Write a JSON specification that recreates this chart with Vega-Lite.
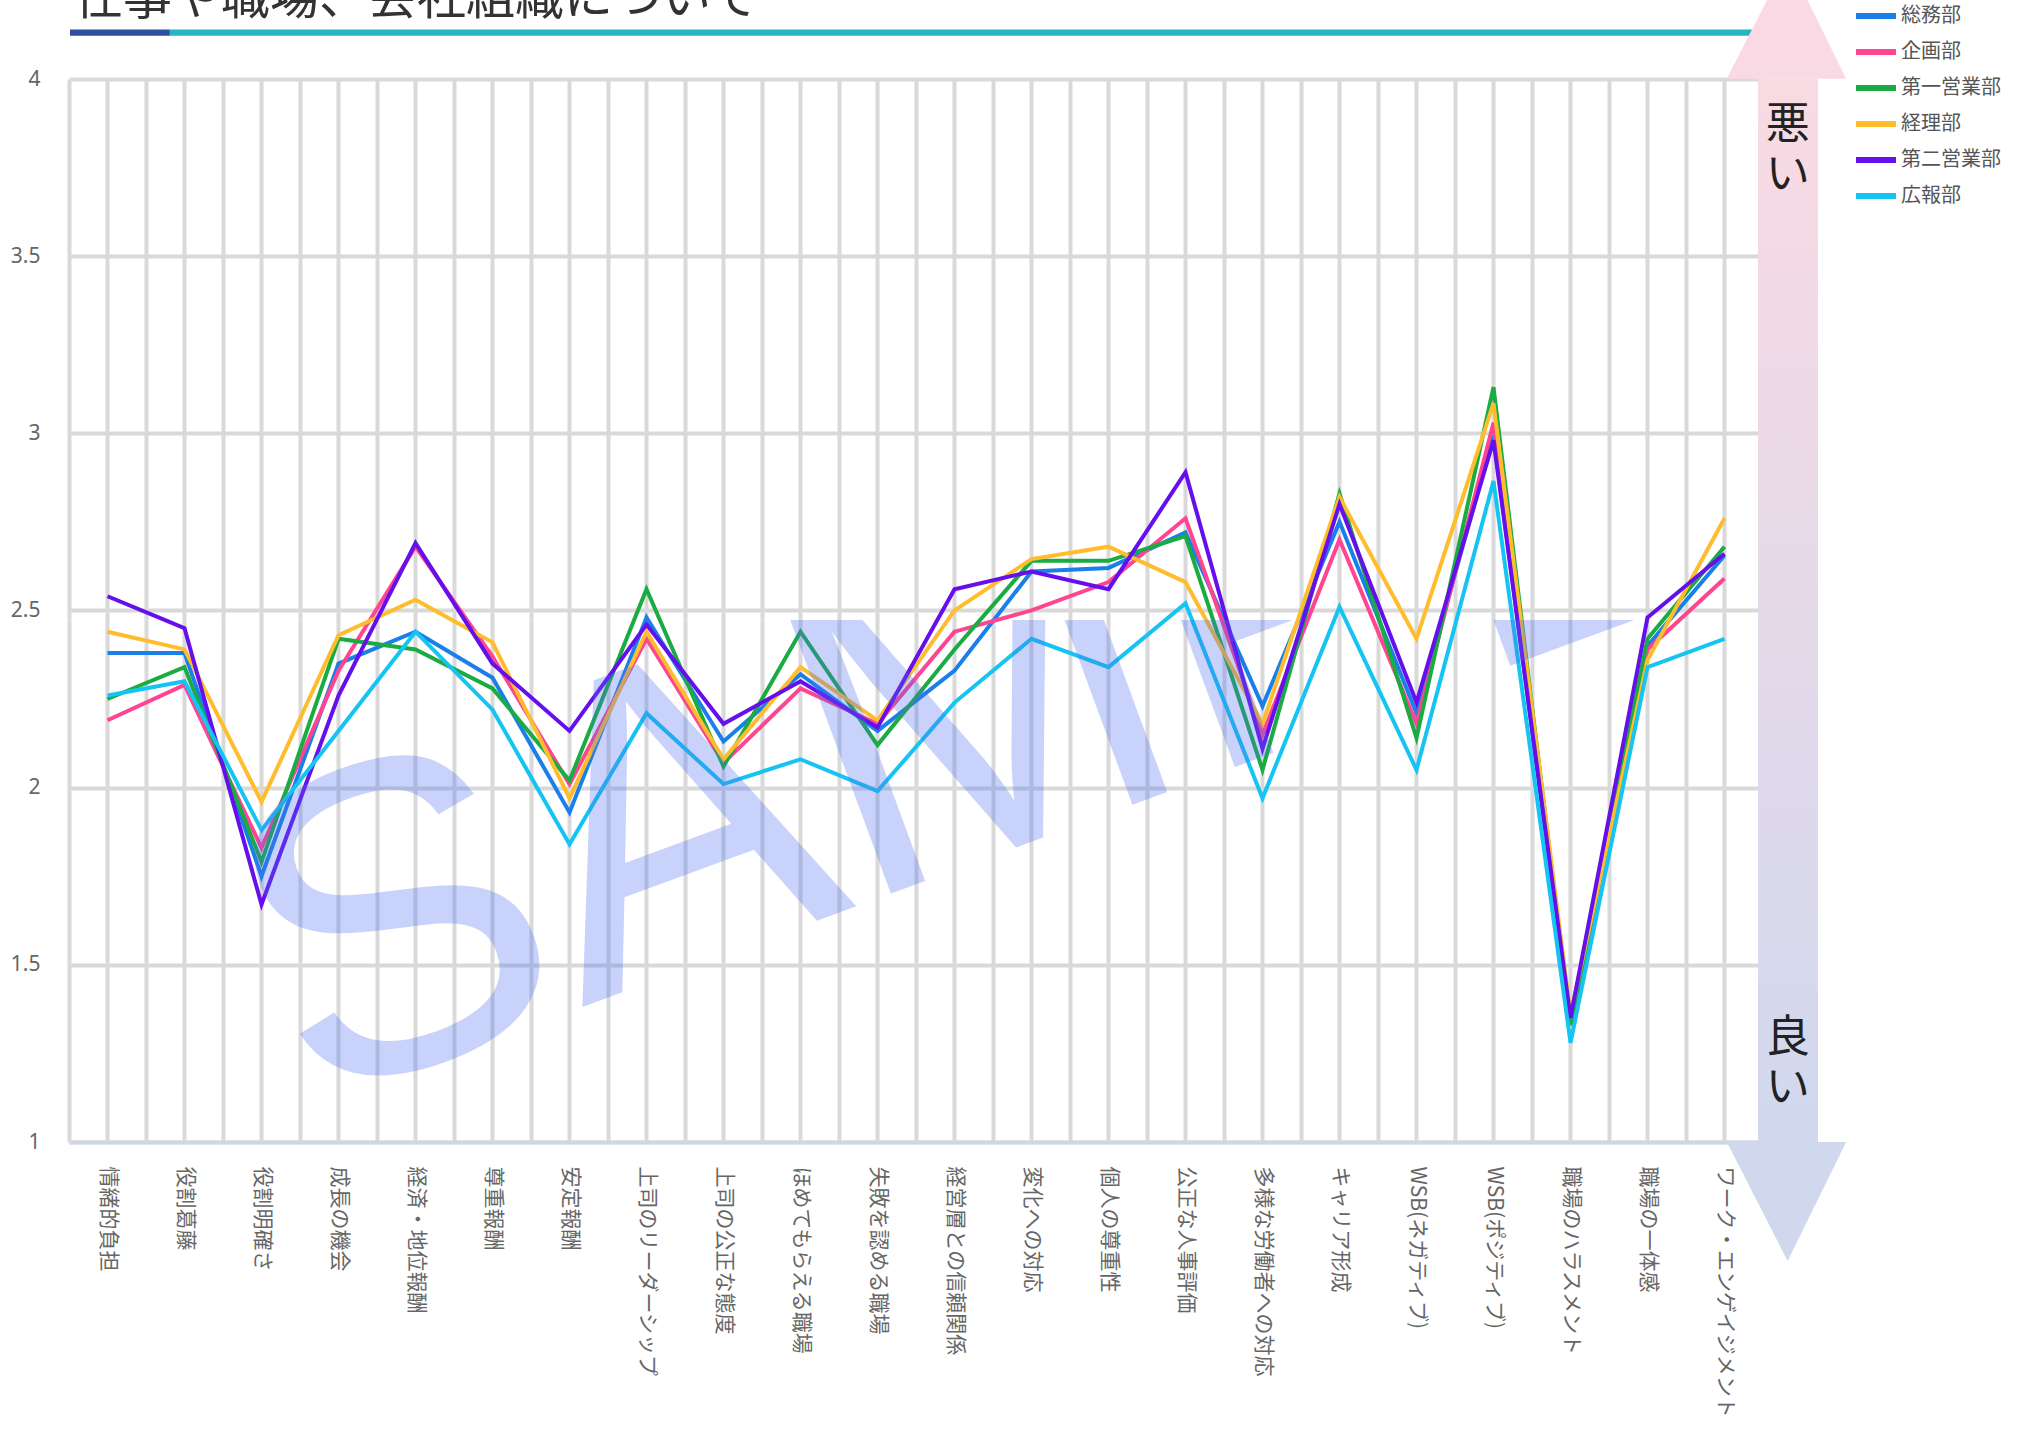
{
"$schema":"https://vega.github.io/schema/vega-lite/v6.json",
"autosize":{"type":"none"},
"padding":{"left":69,"top":79,"right":261,"bottom":1351},
"background":"#ffffff",
"config":{"view":{"stroke":null},"font":"Noto Sans CJK JP",
 "axisY":{"title":null,"grid":true,"gridColor":"#d9d9d9","gridWidth":4,"ticks":false,"domain":false,"labelPadding":29,"labelFontSize":21,"labelColor":"#666666","labelFont":"Noto Sans","labelFlush":false,"labelOverlap":false},
 "axisX":{"title":null,"tickBand":"extent","grid":true,"gridColor":"#d9d9d9","gridWidth":4,"ticks":false,"domainColor":"#cfd7e6","domainWidth":4,"labelAngle":90,"labelPadding":24,"labelFontSize":21,"labelColor":"#666666","labelFont":"Noto Sans CJK JP","labelLimit":600}},
"bounds":"flush",
"spacing":0,
"resolve":{"scale":{"color":"shared"},"legend":{"color":"shared"}},
"datasets":{"scores":[
{"item":"情緒的負担","総務部":2.38,"企画部":2.19,"第一営業部":2.25,"経理部":2.44,"第二営業部":2.54,"広報部":2.26},
{"item":"役割葛藤","総務部":2.38,"企画部":2.29,"第一営業部":2.34,"経理部":2.39,"第二営業部":2.45,"広報部":2.30},
{"item":"役割明確さ","総務部":1.75,"企画部":1.83,"第一営業部":1.79,"経理部":1.96,"第二営業部":1.67,"広報部":1.88},
{"item":"成長の機会","総務部":2.35,"企画部":2.33,"第一営業部":2.42,"経理部":2.43,"第二営業部":2.26,"広報部":2.16},
{"item":"経済・地位報酬","総務部":2.44,"企画部":2.68,"第一営業部":2.39,"経理部":2.53,"第二営業部":2.69,"広報部":2.44},
{"item":"尊重報酬","総務部":2.31,"企画部":2.37,"第一営業部":2.28,"経理部":2.41,"第二営業部":2.35,"広報部":2.22},
{"item":"安定報酬","総務部":1.93,"企画部":2.01,"第一営業部":2.02,"経理部":1.97,"第二営業部":2.16,"広報部":1.84},
{"item":"上司のリーダーシップ","総務部":2.48,"企画部":2.42,"第一営業部":2.56,"経理部":2.44,"第二営業部":2.46,"広報部":2.21},
{"item":"上司の公正な態度","総務部":2.13,"企画部":2.07,"第一営業部":2.06,"経理部":2.08,"第二営業部":2.18,"広報部":2.01},
{"item":"ほめてもらえる職場","総務部":2.32,"企画部":2.28,"第一営業部":2.44,"経理部":2.34,"第二営業部":2.30,"広報部":2.08},
{"item":"失敗を認める職場","総務部":2.16,"企画部":2.18,"第一営業部":2.12,"経理部":2.19,"第二営業部":2.17,"広報部":1.99},
{"item":"経営層との信頼関係","総務部":2.33,"企画部":2.44,"第一営業部":2.39,"経理部":2.50,"第二営業部":2.56,"広報部":2.24},
{"item":"変化への対応","総務部":2.61,"企画部":2.50,"第一営業部":2.64,"経理部":2.645,"第二営業部":2.61,"広報部":2.42},
{"item":"個人の尊重性","総務部":2.62,"企画部":2.58,"第一営業部":2.64,"経理部":2.68,"第二営業部":2.56,"広報部":2.34},
{"item":"公正な人事評価","総務部":2.72,"企画部":2.76,"第一営業部":2.71,"経理部":2.58,"第二営業部":2.89,"広報部":2.52},
{"item":"多様な労働者への対応","総務部":2.23,"企画部":2.15,"第一営業部":2.05,"経理部":2.18,"第二営業部":2.11,"広報部":1.97},
{"item":"キャリア形成","総務部":2.75,"企画部":2.70,"第一営業部":2.83,"経理部":2.82,"第二営業部":2.80,"広報部":2.51},
{"item":"WSB(ネガティブ)","総務部":2.21,"企画部":2.18,"第一営業部":2.14,"経理部":2.42,"第二営業部":2.24,"広報部":2.05},
{"item":"WSB(ポジティブ)","総務部":2.995,"企画部":3.03,"第一営業部":3.13,"経理部":3.085,"第二営業部":2.98,"広報部":2.865},
{"item":"職場のハラスメント","総務部":1.33,"企画部":1.34,"第一営業部":1.33,"経理部":1.36,"第二営業部":1.35,"広報部":1.28},
{"item":"職場の一体感","総務部":2.40,"企画部":2.39,"第一営業部":2.42,"経理部":2.36,"第二営業部":2.48,"広報部":2.34},
{"item":"ワーク・エンゲイジメント","総務部":2.655,"企画部":2.59,"第一営業部":2.68,"経理部":2.76,"第二営業部":2.66,"広報部":2.42}
]},
"vconcat":[
{
"width":1694,"height":541,
"data":{"name":"scores"},
"transform":[{"fold":["総務部","企画部","第一営業部","経理部","第二営業部","広報部"],"as":["dept","value"]}],
"layer":[
 {"transform":[{"aggregate":[{"op":"count","as":"n"}],"groupby":["item"]}],
  "mark":{"type":"rule","color":"#d9d9d9","strokeWidth":4},
  "encoding":{"x":{"field":"item","type":"nominal","sort":null,
    "scale":{"type":"band","paddingInner":0,"paddingOuter":0,"domain":["情緒的負担","役割葛藤","役割明確さ","成長の機会","経済・地位報酬","尊重報酬","安定報酬","上司のリーダーシップ","上司の公正な態度","ほめてもらえる職場","失敗を認める職場","経営層との信頼関係","変化への対応","個人の尊重性","公正な人事評価","多様な労働者への対応","キャリア形成","WSB(ネガティブ)","WSB(ポジティブ)","職場のハラスメント","職場の一体感","ワーク・エンゲイジメント"]},
    "axis":{"labels":false,"domain":false,"title":null}}}},
 {"mark":{"type":"line","strokeWidth":4,"clip":true},
  "encoding":{
   "x":{"field":"item","type":"nominal","sort":null,
    "scale":{"type":"band","paddingInner":0,"paddingOuter":0,"domain":["情緒的負担","役割葛藤","役割明確さ","成長の機会","経済・地位報酬","尊重報酬","安定報酬","上司のリーダーシップ","上司の公正な態度","ほめてもらえる職場","失敗を認める職場","経営層との信頼関係","変化への対応","個人の尊重性","公正な人事評価","多様な労働者への対応","キャリア形成","WSB(ネガティブ)","WSB(ポジティブ)","職場のハラスメント","職場の一体感","ワーク・エンゲイジメント"]},
    "axis":{"labels":false,"domain":false,"title":null}},
   "y":{"field":"value","type":"quantitative","scale":{"domain":[2.473,4],"nice":false,"zero":false},"axis":{"values":[2.5,3,3.5,4],"format":"~g","title":null}},
   "color":{"field":"dept","type":"nominal",
    "scale":{"domain":["総務部","企画部","第一営業部","経理部","第二営業部","広報部"],"range":["#1a7fe9","#ff4491","#1aab42","#ffbd2e","#640fec","#15c4f2"]},
    "legend":{"title":null,"orient":"none","legendX":1791.5,"legendY":-78.5,"symbolType":"M-1.6,0L1.6,0","symbolSize":625,"symbolStrokeWidth":6,"labelFontSize":20,"labelColor":"#555555","labelFont":"Noto Sans CJK JP","labelOffset":9.5,"rowPadding":8,"padding":0}}}}
]
},
{
"width":1694,"height":522,
"title":{"text":"仕事や職場、会社組織について","anchor":"start","frame":"group","fontSize":49,"font":"Noto Sans CJK JP","fontWeight":"normal","color":"#333333","baseline":"alphabetic","offset":-103,"dx":5},
"layer":[
 {"data":{"name":"scores"},
  "transform":[{"fold":["総務部","企画部","第一営業部","経理部","第二営業部","広報部"],"as":["dept","value"]}],
  "layer":[
   {"transform":[{"aggregate":[{"op":"count","as":"n"}],"groupby":["item"]}],
    "mark":{"type":"rule","color":"#d9d9d9","strokeWidth":4},
    "encoding":{"x":{"field":"item","type":"nominal","sort":null,
      "scale":{"type":"band","paddingInner":0,"paddingOuter":0,"domain":["情緒的負担","役割葛藤","役割明確さ","成長の機会","経済・地位報酬","尊重報酬","安定報酬","上司のリーダーシップ","上司の公正な態度","ほめてもらえる職場","失敗を認める職場","経営層との信頼関係","変化への対応","個人の尊重性","公正な人事評価","多様な労働者への対応","キャリア形成","WSB(ネガティブ)","WSB(ポジティブ)","職場のハラスメント","職場の一体感","ワーク・エンゲイジメント"]},
      "axis":{"title":null}}}},
   {"mark":{"type":"line","strokeWidth":4,"clip":true},
    "encoding":{
     "x":{"field":"item","type":"nominal","sort":null,
      "scale":{"type":"band","paddingInner":0,"paddingOuter":0,"domain":["情緒的負担","役割葛藤","役割明確さ","成長の機会","経済・地位報酬","尊重報酬","安定報酬","上司のリーダーシップ","上司の公正な態度","ほめてもらえる職場","失敗を認める職場","経営層との信頼関係","変化への対応","個人の尊重性","公正な人事評価","多様な労働者への対応","キャリア形成","WSB(ネガティブ)","WSB(ポジティブ)","職場のハラスメント","職場の一体感","ワーク・エンゲイジメント"]},
      "axis":{"title":null}},
     "y":{"field":"value","type":"quantitative","scale":{"domain":[1,2.473],"nice":false,"zero":false},"axis":{"values":[1,1.5,2],"format":"~g","title":null}},
     "color":{"field":"dept","type":"nominal",
      "scale":{"domain":["総務部","企画部","第一営業部","経理部","第二営業部","広報部"],"range":["#1a7fe9","#ff4491","#1aab42","#ffbd2e","#640fec","#15c4f2"]},
      "legend":{"title":null,"orient":"none","legendX":1791.5,"legendY":-78.5,"symbolType":"M-1.6,0L1.6,0","symbolSize":625,"symbolStrokeWidth":6,"labelFontSize":20,"labelColor":"#555555","labelFont":"Noto Sans CJK JP","labelOffset":9.5,"rowPadding":8,"padding":0}}}}
  ]},
 {"layer":[
   {"data":{"values":[{"a":0.013,"b":1.31,"lo":4.122,"hi":4.139}]},
    "mark":{"type":"rect","color":"#2e4f9e"},
    "encoding":{"x":{"field":"a","type":"quantitative","scale":{"domain":[0,22]},"axis":null},"x2":{"field":"b"},
     "y":{"field":"lo","type":"quantitative","scale":{"domain":[1,2.473],"nice":false,"zero":false},"axis":{"values":[1,1.5,2],"format":"~g","title":null}},"y2":{"field":"hi"}}},
   {"data":{"values":[{"a":1.31,"b":21.95,"lo":4.122,"hi":4.139}]},
    "mark":{"type":"rect","color":"#27b5bf"},
    "encoding":{"x":{"field":"a","type":"quantitative","scale":{"domain":[0,22]},"axis":null},"x2":{"field":"b"},
     "y":{"field":"lo","type":"quantitative","scale":{"domain":[1,2.473],"nice":false,"zero":false},"axis":{"values":[1,1.5,2],"format":"~g","title":null}},"y2":{"field":"hi"}}},
   {"data":{"values":[{"a":21.935,"b":22.714,"lo":1,"hi":4}]},
    "mark":{"type":"rect","color":{"gradient":"linear","x1":0,"y1":0,"x2":0,"y2":1,"stops":[{"offset":0,"color":"#f9dae3"},{"offset":1,"color":"#d0d8ee"}]}},
    "encoding":{"x":{"field":"a","type":"quantitative","scale":{"domain":[0,22]},"axis":null},"x2":{"field":"b"},
     "y":{"field":"lo","type":"quantitative","scale":{"domain":[1,2.473],"nice":false,"zero":false},"axis":{"values":[1,1.5,2],"format":"~g","title":null}},"y2":{"field":"hi"}}},
   {"data":{"values":[{"hx":21.53,"lo":4,"hi":4},{"hx":22.32,"lo":4,"hi":4.336},{"hx":23.08,"lo":4,"hi":4}]},
    "mark":{"type":"area","color":"#f9d9e3","opacity":1},
    "encoding":{"x":{"field":"hx","type":"quantitative","scale":{"domain":[0,22]},"axis":null},
     "y":{"field":"lo","type":"quantitative","scale":{"domain":[1,2.473],"nice":false,"zero":false},"axis":{"values":[1,1.5,2],"format":"~g","title":null}},"y2":{"field":"hi"}}},
   {"data":{"values":[{"hx":21.53,"lo":1,"hi":1},{"hx":22.32,"lo":1,"hi":0.664},{"hx":23.08,"lo":1,"hi":1}]},
    "mark":{"type":"area","color":"#cfd8ed","opacity":1},
    "encoding":{"x":{"field":"hx","type":"quantitative","scale":{"domain":[0,22]},"axis":null},
     "y":{"field":"lo","type":"quantitative","scale":{"domain":[1,2.473],"nice":false,"zero":false},"axis":{"values":[1,1.5,2],"format":"~g","title":null}},"y2":{"field":"hi"}}},
   {"data":{"values":[{"tx":22.32,"ty":3.93,"t":"悪\nい"},{"tx":22.32,"ty":1.353,"t":"良\nい"}]},
    "mark":{"type":"text","align":"center","baseline":"top","fontSize":44,"lineHeight":50,"lineBreak":"\n","font":"Noto Sans CJK JP","color":"#222222"},
    "encoding":{"x":{"field":"tx","type":"quantitative","scale":{"domain":[0,22]},"axis":null},
     "y":{"field":"ty","type":"quantitative","scale":{"domain":[1,2.473],"nice":false,"zero":false},"axis":{"values":[1,1.5,2],"format":"~g","title":null}},
     "text":{"field":"t"}}},
   {"data":{"values":[{"t":"SAMPLE","wx":3.08,"wy":1.094}]},
    "mark":{"type":"text","clip":true,"angle":-20.2,"align":"left","baseline":"alphabetic","font":"Liberation Sans","fontSize":440,"color":"#4b6ef0","opacity":0.3},
    "encoding":{"x":{"field":"wx","type":"quantitative","scale":{"domain":[0,22]},"axis":null},
     "y":{"field":"wy","type":"quantitative","scale":{"domain":[1,2.473],"nice":false,"zero":false},"axis":{"values":[1,1.5,2],"format":"~g","title":null}},
     "text":{"field":"t"}}}
 ]}
],
"resolve":{"scale":{"x":"independent"},"axis":{"x":"independent"}}
}
]
}
